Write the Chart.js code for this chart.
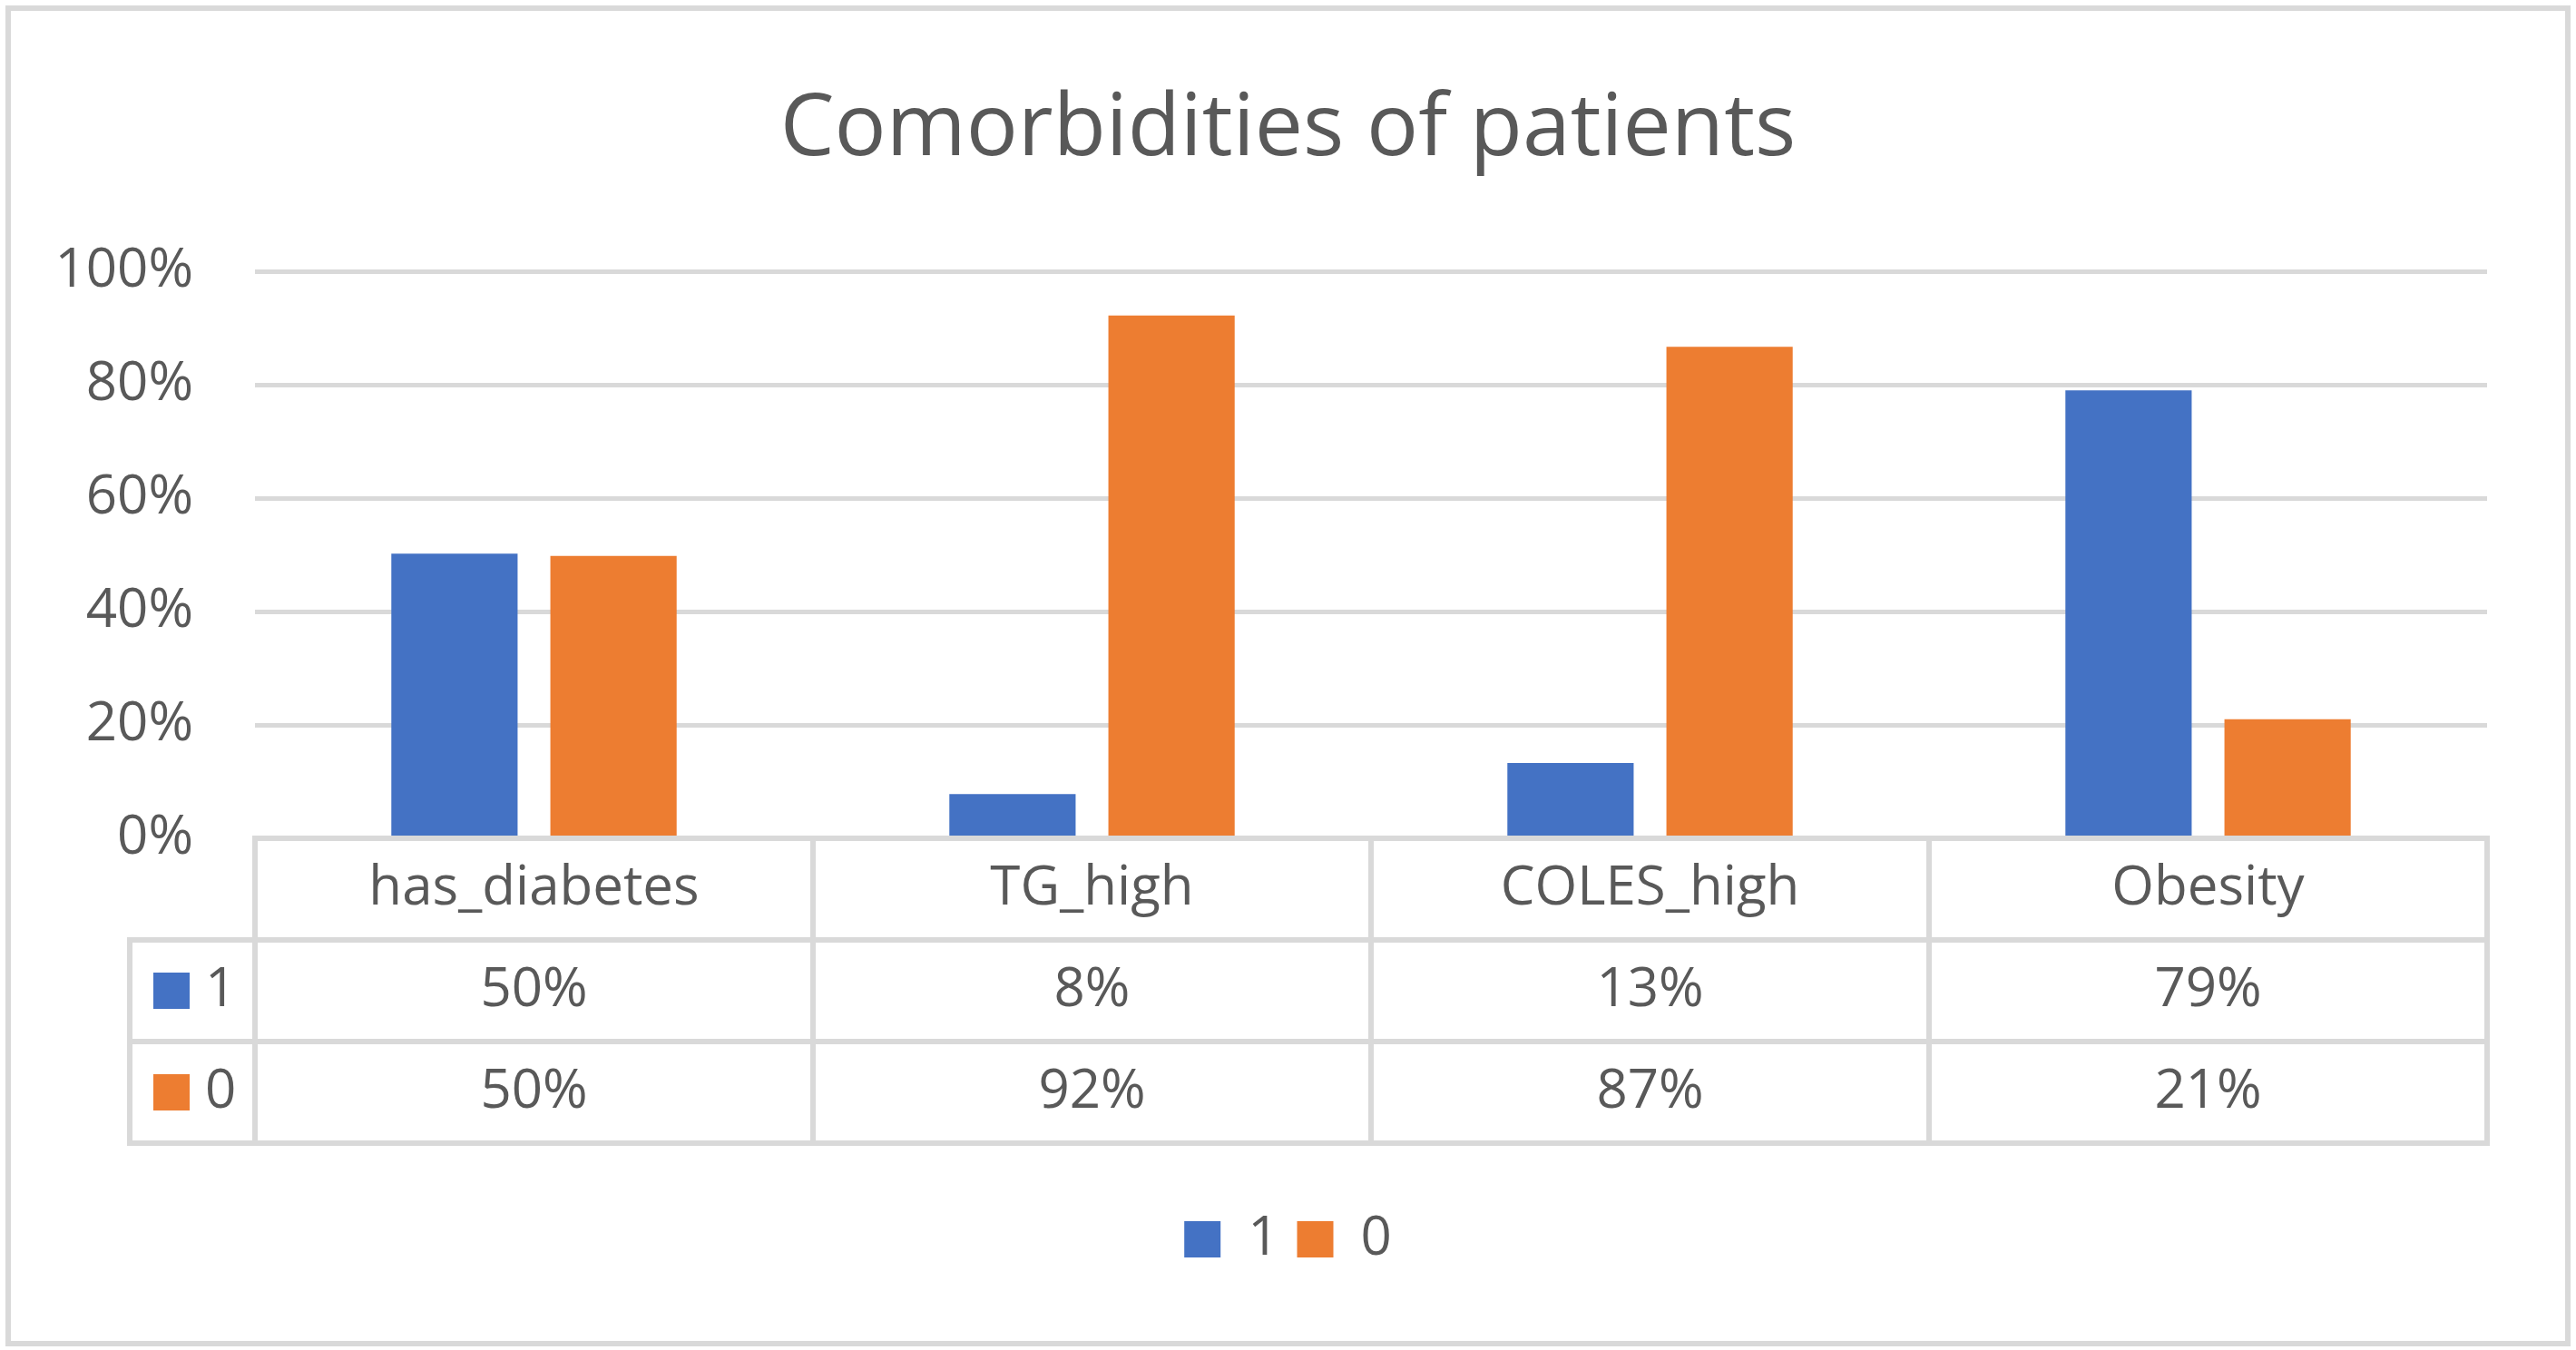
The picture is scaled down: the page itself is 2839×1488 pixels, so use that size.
<!DOCTYPE html>
<html>
<head>
<meta charset="utf-8">
<script src="https://cdn.jsdelivr.net/npm/chart.js@4.4.1/dist/chart.umd.min.js"></script>
<style>
  html, body { margin: 0; padding: 0; background: #fff; }
  canvas { display: block; }
</style>
</head>
<body>
<canvas id="comorbChart" width="2839" height="1488" style="width:2839px;height:1488px"></canvas>
<script>
const categories = ['has_diabetes', 'TG_high', 'COLES_high', 'Obesity'];
const seriesNames = ['1', '0'];
const valuesOne = [50.2, 7.8, 13.3, 79.0];
const valuesZero = [49.8, 92.2, 86.7, 21.0];
const yTickValues = [0, 20, 40, 60, 80, 100];

const blue = '#4472C4';
const orange = '#ED7D31';
const gridColor = '#D9D9D9';
const textColor = '#595959';

Chart.defaults.font.family = "'Open Sans', sans-serif";
Chart.defaults.color = textColor;

// white background + outer frame
const frame = {
    id: 'frame',
    beforeDraw(chart) {
        const ctx = chart.ctx;
        ctx.save();
        ctx.fillStyle = '#fff';
        ctx.fillRect(0, 0, chart.width, chart.height);
        ctx.strokeStyle = gridColor;
        ctx.lineWidth = 6;
        ctx.strokeRect(9, 9, chart.width - 18, chart.height - 16);
        ctx.restore();
    }
};

// data table under the bars, columns taken from the x scale
const dataTable = {
    id: 'dataTable',
    afterDatasetsDraw(chart) {
        const ctx = chart.ctx;
        const x = chart.scales.x;
        const top = chart.chartArea.bottom;
        const rowH = 112;
        const legendLeft = 143;
        const n = categories.length;
        const edges = [x.left];
        for (let i = 0; i < n - 1; i++) {
            edges.push((x.getPixelForValue(i) + x.getPixelForValue(i + 1)) / 2);
        }
        edges.push(x.right);

        ctx.save();
        ctx.strokeStyle = gridColor;
        ctx.lineWidth = 6;
        ctx.lineCap = 'square';
        ctx.beginPath();
        ctx.moveTo(x.left, top);
        ctx.lineTo(x.right, top);
        for (let r = 1; r <= 3; r++) {
            ctx.moveTo(legendLeft, top + r * rowH);
            ctx.lineTo(x.right, top + r * rowH);
        }
        edges.forEach(e => {
            ctx.moveTo(e, top);
            ctx.lineTo(e, top + 3 * rowH);
        });
        ctx.moveTo(legendLeft, top + rowH);
        ctx.lineTo(legendLeft, top + 3 * rowH);
        ctx.stroke();

        ctx.font = "60px 'Open Sans'";
        ctx.textBaseline = 'middle';
        ctx.textAlign = 'center';
        ctx.fillStyle = textColor;
        categories.forEach((c, i) => ctx.fillText(c, x.getPixelForValue(i), top + rowH / 2));

        chart.data.datasets.forEach((ds, r) => {
            const cy = top + (r + 1.5) * rowH;
            ctx.fillStyle = textColor;
            ctx.textAlign = 'center';
            ds.data.forEach((v, i) => ctx.fillText(Math.round(v) + '%', x.getPixelForValue(i), cy));
            ctx.fillStyle = ds.backgroundColor;
            ctx.fillRect(169, cy - 20, 40, 40);
            ctx.fillStyle = textColor;
            ctx.textAlign = 'left';
            ctx.fillText(ds.label, 226, cy);
        });
        ctx.restore();
    }
};

const ctxBar = document.getElementById('comorbChart').getContext('2d');
const barChart = new Chart(ctxBar, {
    type: 'bar',
    data: {
        labels: categories,
        datasets: [
            {
                label: seriesNames[0],
                data: valuesOne,
                backgroundColor: blue,
                categoryPercentage: 0.57,
                barPercentage: 0.794
            },
            {
                label: seriesNames[1],
                data: valuesZero,
                backgroundColor: orange,
                categoryPercentage: 0.57,
                barPercentage: 0.794
            }
        ]
    },
    options: {
        responsive: false,
        animation: false,
        layout: {
            padding: { top: 10, left: 10, right: 10, bottom: 82 }
        },
        scales: {
            x: {
                ticks: { display: false },
                grid: { display: false },
                border: { display: false },
                afterFit(scale) { scale.height = 392; }
            },
            y: {
                min: 0,
                max: 100,
                afterBuildTicks(scale) {
                    scale.ticks = yTickValues.map(v => ({ value: v }));
                },
                ticks: {
                    padding: 68,
                    font: { size: 60 },
                    color: textColor,
                    callback: v => v + '%'
                },
                grid: {
                    color: gridColor,
                    lineWidth: 5,
                    drawTicks: false
                },
                border: { display: false },
                afterFit(scale) { scale.width = 271; }
            },
            // empty spacer on the right so title and legend stay centred on the page
            yRight: {
                position: 'right',
                ticks: { display: false },
                grid: { display: false },
                border: { display: false },
                afterFit(scale) { scale.width = 88; }
            }
        },
        plugins: {
            title: {
                display: true,
                text: 'Comorbidities of patients',
                color: textColor,
                font: { size: 95, weight: 'normal' },
                padding: { top: 77, bottom: 98 }
            },
            legend: {
                position: 'bottom',
                labels: {
                    boxWidth: 40,
                    boxHeight: 40,
                    padding: 20,
                    color: textColor,
                    font: { size: 60 }
                }
            },
            tooltip: { enabled: false }
        }
    },
    plugins: [frame, dataTable]
});
</script>
</body>
</html>
